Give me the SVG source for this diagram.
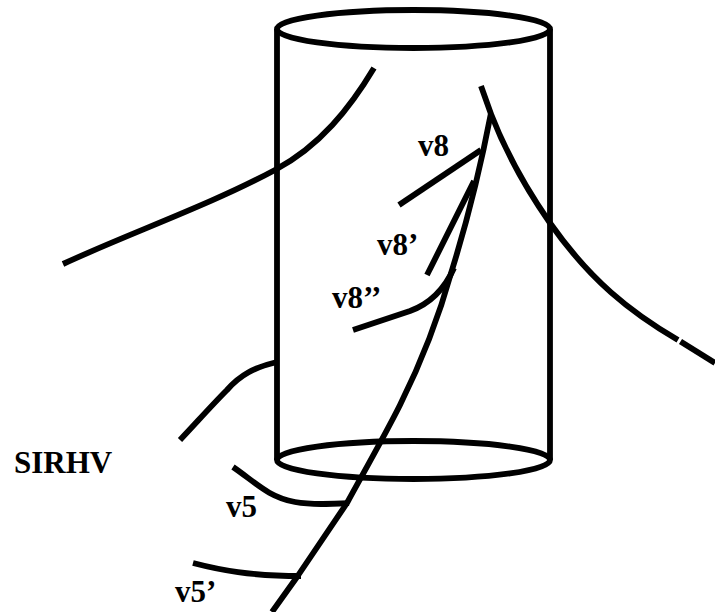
<svg xmlns="http://www.w3.org/2000/svg" width="715" height="612" viewBox="0 0 715 612">
<style>
.l{fill:none;stroke:#000;stroke-width:5.8;stroke-linecap:butt;stroke-linejoin:round}
.t{font-family:"Liberation Serif",serif;font-weight:bold;font-size:31px;fill:#000}
</style>
<rect width="715" height="612" fill="#fff"/>
<g id="cylinder">
<ellipse class="l" cx="413.5" cy="29" rx="136.5" ry="19"/>
<ellipse class="l" cx="413.5" cy="460" rx="136.5" ry="19"/>
<path class="l" d="M277 29V460M550 29V460"/>
</g>
<g id="connectors">
<path class="l" d="M63 264C130 233 210 205 275 170C320 146 350 108 374 68"/>
<path class="l" d="M481 86L491 114C505 150 527 190 550 223C590 280 630 312 678 340"/>
<path class="l" d="M680.500 341.500L715 363"/>
<path class="l" d="M491 113C481 165 466 225 452 270C438 320 420 365 400 405C385 435 365 470 347 503L297 577L272 612"/>
<path class="l" d="M399 205L481 150"/>
<path class="l" d="M427 275L474 181"/>
<path class="l" d="M353 330L410 311C432 303 445 288 454 268"/>
<path class="l" d="M180 440C197 422 212 405 227 390C240 375 255 367 277 362"/>
<path class="l" d="M233 467C255 482 268 497 295 502C312 505 330 504 349 503"/>
<path class="l" d="M193 563C220 570 250 576 301 576"/>
</g>
<g id="labels">
<text class="t" x="418" y="156">v8</text>
<text class="t" x="377" y="255">v8’</text>
<text class="t" x="332" y="308">v8’’</text>
<text class="t" x="14" y="473">SIRHV</text>
<text class="t" x="226" y="517">v5</text>
<text class="t" x="175" y="602">v5’</text>
</g>
</svg>
